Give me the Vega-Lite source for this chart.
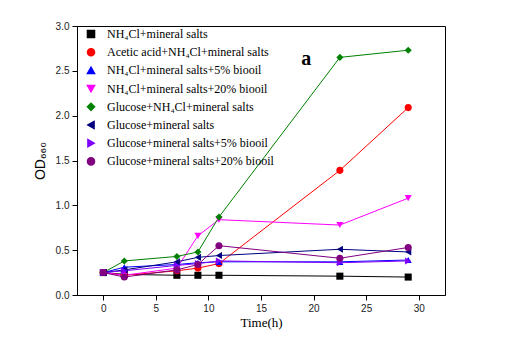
{
  "$schema": "https://vega.github.io/schema/vega-lite/v6.json",
  "autosize": "none",
  "width": 368,
  "height": 269,
  "padding": {"left": 77, "top": 26, "right": 61, "bottom": 56},
  "background": "white",
  "config": {"view": {"stroke": "black", "strokeWidth": 1}},
  "datasets": {
    "curves": [
      {"series": "NH₄Cl+mineral salts", "t": 0, "v": 0.25},
      {"series": "NH₄Cl+mineral salts", "t": 2, "v": 0.23},
      {"series": "NH₄Cl+mineral salts", "t": 7, "v": 0.22},
      {"series": "NH₄Cl+mineral salts", "t": 9, "v": 0.22},
      {"series": "NH₄Cl+mineral salts", "t": 11, "v": 0.22},
      {"series": "NH₄Cl+mineral salts", "t": 22.5, "v": 0.21},
      {"series": "NH₄Cl+mineral salts", "t": 29, "v": 0.2},
      {"series": "Acetic acid+NH₄Cl+mineral salts", "t": 0, "v": 0.25},
      {"series": "Acetic acid+NH₄Cl+mineral salts", "t": 2, "v": 0.22},
      {"series": "Acetic acid+NH₄Cl+mineral salts", "t": 7, "v": 0.27},
      {"series": "Acetic acid+NH₄Cl+mineral salts", "t": 9, "v": 0.3},
      {"series": "Acetic acid+NH₄Cl+mineral salts", "t": 11, "v": 0.35},
      {"series": "Acetic acid+NH₄Cl+mineral salts", "t": 22.5, "v": 1.39},
      {"series": "Acetic acid+NH₄Cl+mineral salts", "t": 29, "v": 2.09},
      {"series": "NH₄Cl+mineral salts+5% biooil", "t": 0, "v": 0.25},
      {"series": "NH₄Cl+mineral salts+5% biooil", "t": 2, "v": 0.31},
      {"series": "NH₄Cl+mineral salts+5% biooil", "t": 7, "v": 0.34},
      {"series": "NH₄Cl+mineral salts+5% biooil", "t": 9, "v": 0.36},
      {"series": "NH₄Cl+mineral salts+5% biooil", "t": 11, "v": 0.37},
      {"series": "NH₄Cl+mineral salts+5% biooil", "t": 22.5, "v": 0.37},
      {"series": "NH₄Cl+mineral salts+5% biooil", "t": 29, "v": 0.39},
      {"series": "NH₄Cl+mineral salts+20% biooil", "t": 0, "v": 0.25},
      {"series": "NH₄Cl+mineral salts+20% biooil", "t": 2, "v": 0.22},
      {"series": "NH₄Cl+mineral salts+20% biooil", "t": 7, "v": 0.3},
      {"series": "NH₄Cl+mineral salts+20% biooil", "t": 9, "v": 0.66},
      {"series": "NH₄Cl+mineral salts+20% biooil", "t": 11, "v": 0.84},
      {"series": "NH₄Cl+mineral salts+20% biooil", "t": 22.5, "v": 0.78},
      {"series": "NH₄Cl+mineral salts+20% biooil", "t": 29, "v": 1.08},
      {"series": "Glucose+NH₄Cl+mineral salts", "t": 0, "v": 0.25},
      {"series": "Glucose+NH₄Cl+mineral salts", "t": 2, "v": 0.38},
      {"series": "Glucose+NH₄Cl+mineral salts", "t": 7, "v": 0.43},
      {"series": "Glucose+NH₄Cl+mineral salts", "t": 9, "v": 0.48},
      {"series": "Glucose+NH₄Cl+mineral salts", "t": 11, "v": 0.87},
      {"series": "Glucose+NH₄Cl+mineral salts", "t": 22.5, "v": 2.65},
      {"series": "Glucose+NH₄Cl+mineral salts", "t": 29, "v": 2.73},
      {"series": "Glucose+mineral salts", "t": 0, "v": 0.25},
      {"series": "Glucose+mineral salts", "t": 2, "v": 0.28},
      {"series": "Glucose+mineral salts", "t": 7, "v": 0.37},
      {"series": "Glucose+mineral salts", "t": 9, "v": 0.42},
      {"series": "Glucose+mineral salts", "t": 11, "v": 0.44},
      {"series": "Glucose+mineral salts", "t": 22.5, "v": 0.51},
      {"series": "Glucose+mineral salts", "t": 29, "v": 0.48},
      {"series": "Glucose+mineral salts+5% biooil", "t": 0, "v": 0.25},
      {"series": "Glucose+mineral salts+5% biooil", "t": 2, "v": 0.27},
      {"series": "Glucose+mineral salts+5% biooil", "t": 7, "v": 0.33},
      {"series": "Glucose+mineral salts+5% biooil", "t": 9, "v": 0.35},
      {"series": "Glucose+mineral salts+5% biooil", "t": 11, "v": 0.38},
      {"series": "Glucose+mineral salts+5% biooil", "t": 22.5, "v": 0.36},
      {"series": "Glucose+mineral salts+5% biooil", "t": 29, "v": 0.38},
      {"series": "Glucose+mineral salts+20% biooil", "t": 0, "v": 0.25},
      {"series": "Glucose+mineral salts+20% biooil", "t": 2, "v": 0.2},
      {"series": "Glucose+mineral salts+20% biooil", "t": 7, "v": 0.28},
      {"series": "Glucose+mineral salts+20% biooil", "t": 9, "v": 0.34},
      {"series": "Glucose+mineral salts+20% biooil", "t": 11, "v": 0.55},
      {"series": "Glucose+mineral salts+20% biooil", "t": 22.5, "v": 0.41},
      {"series": "Glucose+mineral salts+20% biooil", "t": 29, "v": 0.53}
    ],
    "label": [{"t": 19.3, "v": 2.63, "text": "a"}]
  },
  "layer": [
    {
      "data": {"name": "curves"},
      "mark": {"type": "line", "strokeWidth": 1},
      "encoding": {
        "x": {"field": "t", "type": "quantitative",
          "scale": {"domain": [-2.5, 32.5], "nice": false, "zero": false},
          "axis": {"title": "Time(h)", "titleFont": "Liberation Serif", "titleFontSize": 13, "titleFontWeight": "normal", "titleColor": "black", "titlePadding": 3,
            "values": [0, 2.5, 5, 7.5, 10, 12.5, 15, 17.5, 20, 22.5, 25, 27.5, 30],
            "labelExpr": "(datum.value % 5) === 0 ? format(datum.value, 'd') : ''",
            "labelOverlap": false,
            "labelFont": "Liberation Sans", "labelFontSize": 10, "labelColor": "#222", "labelPadding": 3,
            "tickSize": {"condition": {"test": "(datum.value % 5) !== 0", "value": 3}, "value": 5},
            "tickColor": "black", "domainColor": "black", "grid": false}},
        "y": {"field": "v", "type": "quantitative",
          "scale": {"domain": [0, 3], "nice": false},
          "axis": {"title": "OD₆₆₀", "titleFont": "Liberation Sans", "titleFontSize": 14, "titleFontWeight": "normal", "titleColor": "black", "titlePadding": 8,
            "values": [0, 0.25, 0.5, 0.75, 1, 1.25, 1.5, 1.75, 2, 2.25, 2.5, 2.75, 3],
            "labelExpr": "(datum.value * 2) % 1 === 0 ? format(datum.value, '.1f') : ''",
            "labelOverlap": false,
            "labelFont": "Liberation Sans", "labelFontSize": 10, "labelColor": "#222", "labelPadding": 3,
            "tickSize": {"condition": {"test": "(datum.value * 2) % 1 !== 0", "value": 3}, "value": 5},
            "tickColor": "black", "domainColor": "black", "grid": false, "labelFlush": false}},
        "color": {"field": "series", "type": "nominal",
          "scale": {
            "domain": ["NH₄Cl+mineral salts", "Acetic acid+NH₄Cl+mineral salts", "NH₄Cl+mineral salts+5% biooil", "NH₄Cl+mineral salts+20% biooil", "Glucose+NH₄Cl+mineral salts", "Glucose+mineral salts", "Glucose+mineral salts+5% biooil", "Glucose+mineral salts+20% biooil"],
            "range": ["#000000", "#ff0000", "#0000ff", "#ff00ff", "#008000", "#000080", "#7f00ff", "#800080"]},
          "legend": {"title": null, "orient": "none", "legendX": 8, "legendY": 2,
            "labelFont": "Liberation Serif", "labelFontSize": 12, "labelColor": "black", "labelLimit": 300,
            "symbolSize": 50, "rowPadding": 4.2, "labelOffset": 10, "symbolOpacity": 1}},
        "detail": {"field": "series"}
      }
    },
    {
      "data": {"name": "curves"},
      "mark": {"type": "point", "filled": true, "opacity": 1, "size": 50},
      "encoding": {
        "x": {"field": "t", "type": "quantitative"},
        "y": {"field": "v", "type": "quantitative"},
        "color": {"field": "series", "type": "nominal"},
        "shape": {"field": "series", "type": "nominal",
          "scale": {
            "domain": ["NH₄Cl+mineral salts", "Acetic acid+NH₄Cl+mineral salts", "NH₄Cl+mineral salts+5% biooil", "NH₄Cl+mineral salts+20% biooil", "Glucose+NH₄Cl+mineral salts", "Glucose+mineral salts", "Glucose+mineral salts+5% biooil", "Glucose+mineral salts+20% biooil"],
            "range": ["square", "circle", "triangle-up", "triangle-down", "diamond", "triangle-left", "triangle-right", "circle"]}}
      }
    },
    {
      "data": {"name": "label"},
      "mark": {"type": "text", "font": "Liberation Serif", "fontSize": 20, "fontWeight": "bold", "color": "black"},
      "encoding": {
        "x": {"field": "t", "type": "quantitative"},
        "y": {"field": "v", "type": "quantitative"},
        "text": {"field": "text"}
      }
    }
  ]
}
